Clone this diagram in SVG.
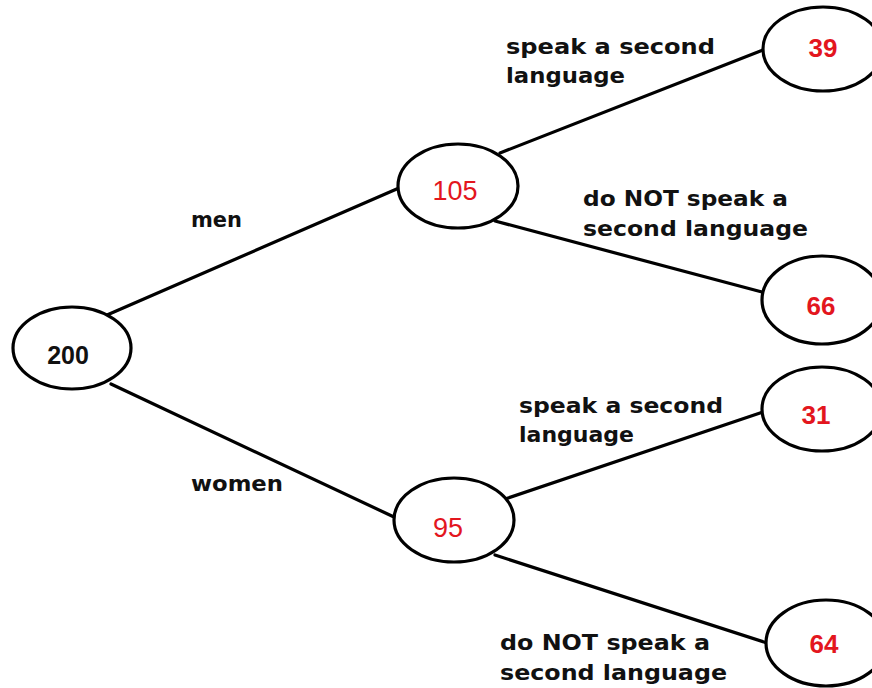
<svg xmlns="http://www.w3.org/2000/svg" width="872" height="688" viewBox="0 0 872 688">
  <style>
    .node { fill: #ffffff; stroke: #000000; stroke-width: 3.2; }
    .edge { stroke: #000000; stroke-width: 3.2; stroke-linecap: round; fill: none; }
    .lbl { font-family: "DejaVu Sans", "Liberation Sans", sans-serif; font-weight: bold; font-size: 22px; fill: #111111; }
    .num { font-family: "Liberation Sans", Arial, sans-serif; font-size: 27px; text-anchor: middle; }
    .num-b { font-weight: bold; font-size: 26px; fill: #e3161e; }
    .num-r { font-weight: normal; fill: #e3161e; }
    .num-k { font-weight: bold; font-size: 25px; fill: #111111; }
  </style>
  <rect width="872" height="688" fill="#ffffff"/>

  <!-- branches of the tree -->
  <g id="connectors">
    <line class="edge" x1="107" y1="315" x2="399" y2="188"/>
    <line class="edge" x1="111" y1="384" x2="394" y2="517"/>
    <line class="edge" x1="500" y1="153" x2="763" y2="50"/>
    <line class="edge" x1="495" y1="221" x2="762" y2="292"/>
    <line class="edge" x1="505" y1="499" x2="763" y2="412"/>
    <line class="edge" x1="495" y1="555" x2="767" y2="643"/>
  </g>

  <!-- branch labels -->
  <g id="labels">
    <text class="lbl" x="191" y="227" textLength="51" lengthAdjust="spacingAndGlyphs">men</text>
    <text class="lbl" x="191" y="491" textLength="92" lengthAdjust="spacingAndGlyphs">women</text>
    <text class="lbl" x="506" y="54" textLength="209" lengthAdjust="spacingAndGlyphs">speak a second</text>
    <text class="lbl" x="506" y="83" textLength="119" lengthAdjust="spacingAndGlyphs">language</text>
    <text class="lbl" x="583" y="206" textLength="205" lengthAdjust="spacingAndGlyphs">do NOT speak a</text>
    <text class="lbl" x="583" y="236" textLength="225" lengthAdjust="spacingAndGlyphs">second language</text>
    <text class="lbl" x="519" y="413" textLength="204" lengthAdjust="spacingAndGlyphs">speak a second</text>
    <text class="lbl" x="519" y="442" textLength="115" lengthAdjust="spacingAndGlyphs">language</text>
    <text class="lbl" x="500" y="650" textLength="210" lengthAdjust="spacingAndGlyphs">do NOT speak a</text>
    <text class="lbl" x="500" y="680" textLength="227" lengthAdjust="spacingAndGlyphs">second language</text>
  </g>

  <g id="n200">
    <ellipse class="node" cx="72" cy="348" rx="59" ry="41"/>
    <text class="num num-k" x="68" y="364">200</text>
  </g>
  <g id="n105">
    <ellipse class="node" cx="458" cy="186" rx="60" ry="42"/>
    <text class="num num-r" x="455" y="200">105</text>
  </g>
  <g id="n95">
    <ellipse class="node" cx="454" cy="520" rx="60" ry="42"/>
    <text class="num num-r" x="448" y="537">95</text>
  </g>
  <g id="n39">
    <ellipse class="node" cx="823" cy="49" rx="60" ry="42"/>
    <text class="num num-b" x="823" y="57">39</text>
  </g>
  <g id="n66">
    <ellipse class="node" cx="822" cy="300" rx="60" ry="44"/>
    <text class="num num-b" x="821" y="315">66</text>
  </g>
  <g id="n31">
    <ellipse class="node" cx="822" cy="409" rx="60" ry="42"/>
    <text class="num num-b" x="816" y="424">31</text>
  </g>
  <g id="n64">
    <ellipse class="node" cx="826" cy="643" rx="60" ry="43"/>
    <text class="num num-b" x="824" y="653">64</text>
  </g>
</svg>
